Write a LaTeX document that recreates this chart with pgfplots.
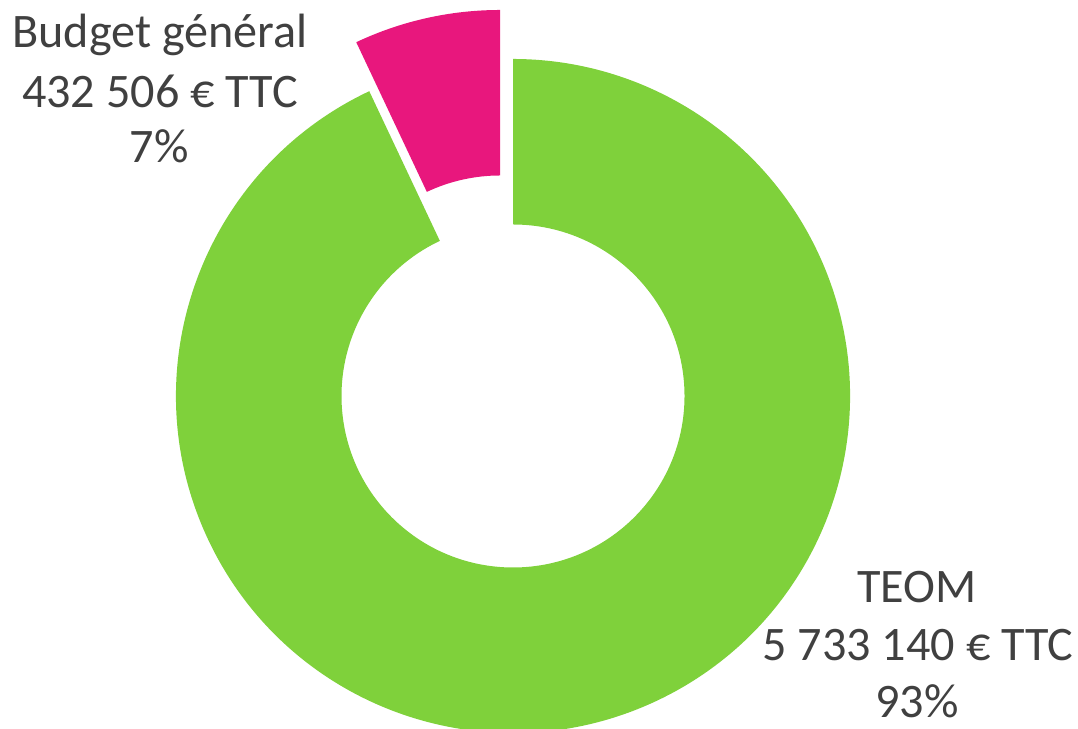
\documentclass[border=0pt]{standalone}
\usepackage{pgfplots}
\pgfplotsset{compat=1.18}
\usepackage{pgfplotstable}
\usetikzlibrary{calc}
\usepackage{fontspec}
\setmainfont{Carlito}
\definecolor{teom}{HTML}{7FD13B}
\definecolor{bg}{HTML}{E8177D}
\definecolor{txt}{HTML}{404040}
\pgfplotstableread{
part value
TEOM 5733.140
Budget 432.506
}\donut
\pgfplotstablegetelem{0}{value}\of\donut \let\vTEOM\pgfplotsretval
\pgfplotstablegetelem{1}{value}\of\donut \let\vBG\pgfplotsretval
\pgfmathsetmacro\fracBG{\vBG/(\vTEOM+\vBG)}
\pgfmathsetmacro\angBG{360*\fracBG}
\pgfmathsetmacro\angEnd{90+\angBG}
\begin{document}
\begin{tikzpicture}
\begin{axis}[width=10.78cm,height=7.28cm,scale only axis,
  xmin=0,xmax=1078,ymin=0,ymax=728,hide axis]
\addplot[draw=none,forget plot] coordinates {(0,0) (1078,728)};
\coordinate (C) at (axis cs:513,332);
\coordinate (P) at (axis cs:500,381);
\fill[teom] ($(C)+(\angEnd:1.715cm)$) -- ($(C)+(\angEnd:3.37cm)$)
  arc[start angle=\angEnd, end angle=450, radius=3.37cm]
  -- ($(C)+(90:1.715cm)$)
  arc[start angle=450, end angle=\angEnd, radius=1.715cm] -- cycle;
\fill[bg] ($(P)+(90:1.715cm)$) -- ($(P)+(90:3.37cm)$)
  arc[start angle=90, end angle=\angEnd, radius=3.37cm]
  -- ($(P)+(\angEnd:1.715cm)$)
  arc[start angle=\angEnd, end angle=90, radius=1.715cm] -- cycle;
\begin{scope}[every node/.style={anchor=base,inner sep=0pt,text=txt,font=\fontsize{13.7}{16.4}\selectfont}]
\node at (axis cs:160,680) {Budget général};
\node at (axis cs:160,620) {432 506 € TTC};
\node at (axis cs:159,565) {7\%};
\node at (axis cs:917,126) {TEOM};
\node at (axis cs:918,68) {5 733 140 € TTC};
\node at (axis cs:917,11) {93\%};
\end{scope}
\end{axis}
\end{tikzpicture}
\end{document}
